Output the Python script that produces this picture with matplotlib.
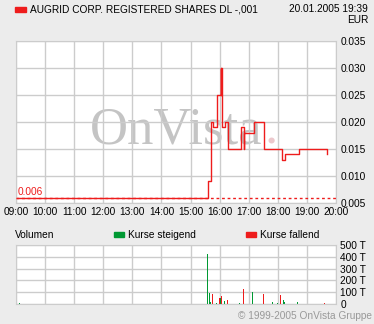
import numpy as np
import matplotlib.pyplot as plt

# price steps (hour of day, EUR)
price_t = [9.05, 15.61, 15.69, 15.71, 15.77, 15.91, 16.04, 16.05, 16.06, 16.07,
           16.20, 16.28, 16.72, 16.83, 16.835, 17.18, 17.53, 18.13, 18.24, 18.72, 19.68]
price_v = [0.006, 0.009, 0.015, 0.020, 0.019, 0.025, 0.030, 0.025, 0.030, 0.019,
           0.020, 0.015, 0.019, 0.015, 0.018, 0.020, 0.015, 0.013, 0.014, 0.015, 0.014]
prev_close = 0.006

# volume (thousands), rising trades
up_t = [9.11, 15.58, 15.64, 15.68, 15.89, 16.02, 16.16, 16.68, 16.70, 17.12,
        17.81, 17.98, 18.19, 18.22, 18.67]
up_v = [5, 425, 95, 20, 6, 55, 28, 12, 12, 105, 20, 12, 37, 20, 20]
# falling trades
dn_t = [15.75, 15.99, 16.06, 16.26, 16.81, 17.50, 18.09, 19.60]
dn_v = [88, 55, 68, 37, 128, 87, 80, 5]

hours = list(range(9, 21))
hour_labels = ["%02d:00" % h for h in hours]
price_ticks = [0.005, 0.010, 0.015, 0.020, 0.025, 0.030, 0.035]
vol_ticks = [0, 100, 200, 300, 400, 500]
vol_labels = ["0", "100 T", "200 T", "300 T", "400 T", "500 T"]

W, H = 374, 324
bg = "#ececec"
grid_c = "#cccccc"
red = "#ee1c1c"
green = "#009933"
plt.rcParams['font.family'] = ['Liberation Sans', 'DejaVu Sans']
fs = 7.3

fig = plt.figure(figsize=(W / 100, H / 100), dpi=100, facecolor=bg)


def px_axes(l, t, r, b):
    return fig.add_axes([l / W, 1 - b / H, (r - l) / W, (b - t) / H])


# main price panel
ax = px_axes(16, 41, 336, 203)
ax.set_facecolor("white")
ax.set_xlim(9, 20)
ax.set_ylim(0.005, 0.035)
ax.set_xticks(hours)
ax.set_xticklabels(hour_labels)
ax.set_yticks(price_ticks)
ax.set_yticklabels(["%.3f" % v for v in price_ticks])
ax.yaxis.tick_right()
ax.tick_params(length=0, labelsize=fs, pad=3)
ax.grid(True, color=grid_c, lw=1, zorder=2)
ax.set_axisbelow(False)
for s in ax.spines.values():
    s.set_color(grid_c)

# watermark, under the grid
serif = ["Liberation Serif", "DejaVu Serif"]
ax.text(176 / W, 1 - 143 / H, "OnVista", family=serif, fontsize=38, color="#c4c4c4",
        ha="center", va="baseline", transform=fig.transFigure, zorder=1)
ax.text(271 / W, 1 - 143 / H, ".", family=serif, fontsize=38, color="#ecc8cc",
        ha="center", va="baseline", transform=fig.transFigure, zorder=1)

ax.axhline(prev_close, color=red, lw=1, ls=(0, (2, 2)), zorder=3)
ax.step(price_t, price_v, where="post", color=red, lw=1.0, zorder=4)
ax.text(9.07, 0.0062, "%.3f" % prev_close, color=red, fontsize=fs, va="bottom", zorder=5)

# header
fig.patches.append(plt.Rectangle((15 / W, 1 - 12 / H), 11 / W, 5 / H,
                                 transform=fig.transFigure, color=red))
fig.text(30 / W, 1 - 9 / H, "AUGRID CORP. REGISTERED SHARES DL -,001",
         fontsize=fs, va="center", ha="left")
fig.text(368 / W, 1 - 9 / H, "20.01.2005 19:39", fontsize=fs, va="center", ha="right")
fig.text(368 / W, 1 - 20 / H, "EUR", fontsize=fs, va="center", ha="right")

# volume panel
vx = px_axes(16, 245, 336, 304)
vx.set_facecolor("white")
vx.set_xlim(9, 20)
vx.set_ylim(0, 500)
vx.set_xticks(hours)
vx.set_xticklabels([])
vx.set_yticks(vol_ticks)
vx.set_yticklabels(vol_labels)
vx.yaxis.tick_right()
vx.tick_params(length=0, labelsize=fs, pad=3)
vx.grid(True, color=grid_c, lw=1)
vx.set_axisbelow(True)
for s in vx.spines.values():
    s.set_color(grid_c)
vx.bar(up_t, up_v, width=0.03, color=green, align="center")
vx.bar(dn_t, dn_v, width=0.03, color=red, align="center")

fig.text(15 / W, 1 - 235 / H, "Volumen", fontsize=fs, va="center")
fig.patches.append(plt.Rectangle((114 / W, 1 - 237 / H), 10 / W, 5 / H,
                                 transform=fig.transFigure, color=green))
fig.text(128 / W, 1 - 235 / H, "Kurse steigend", fontsize=fs, va="center")
fig.patches.append(plt.Rectangle((246 / W, 1 - 237 / H), 10 / W, 5 / H,
                                 transform=fig.transFigure, color=red))
fig.text(260 / W, 1 - 235 / H, "Kurse fallend", fontsize=fs, va="center")

fig.text(372 / W, 1 - 316 / H, "\u00a9 1999-2005 OnVista Gruppe", fontsize=fs,
         color="#999999", ha="right", va="center")

fig.savefig("out.png", dpi=100, facecolor=bg)
